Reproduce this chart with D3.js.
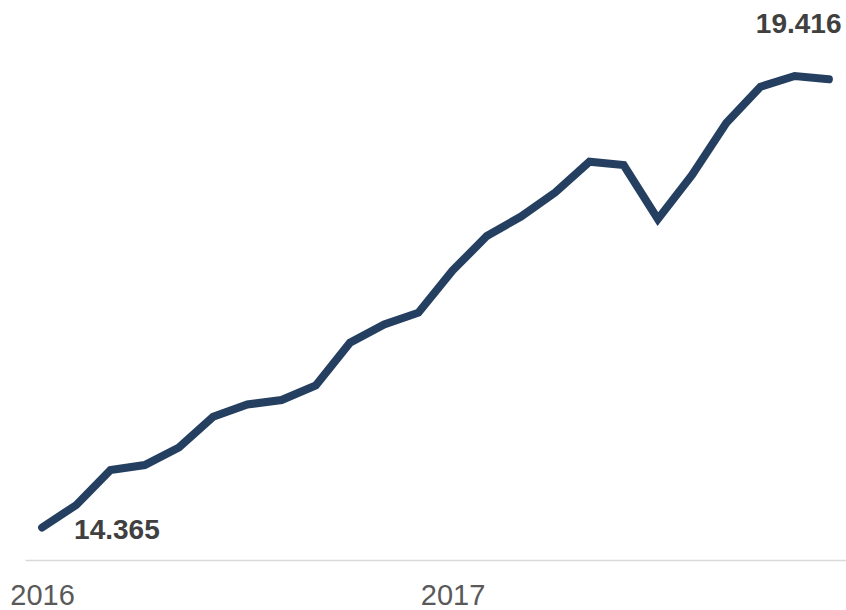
<!DOCTYPE html>
<html>
<head>
<meta charset="utf-8">
<script src="https://cdn.jsdelivr.net/npm/d3@7"></script>
<style>
  body { margin: 0; background: #fff; }
  svg { display: block; font-family: "Liberation Sans", Arial, sans-serif; }
</style>
</head>
<body>
<svg id="chart" width="846" height="610"></svg>
<script>
var months = ["2016-01", "2016-02", "2016-03", "2016-04", "2016-05", "2016-06",
              "2016-07", "2016-08", "2016-09", "2016-10", "2016-11", "2016-12",
              "2017-01", "2017-02", "2017-03", "2017-04", "2017-05", "2017-06",
              "2017-07", "2017-08", "2017-09", "2017-10", "2017-11", "2017-12"];
var values = [14.365, 14.617, 15.008, 15.064, 15.260, 15.605,
              15.741, 15.791, 15.954, 16.432, 16.636, 16.768,
              17.240, 17.626, 17.844, 18.113, 18.457, 18.420,
              17.815, 18.308, 18.890, 19.296, 19.416, 19.379];
var tickMonths = ["2016-01", "2017-01"];
var tickLabels = ["2016", "2017"];

var svg = d3.select("#chart");

var x = d3.scalePoint()
    .domain(months)
    .range([25, 846])
    .padding(0.5);

var y = d3.scaleLinear()
    .domain([d3.min(values), d3.max(values)])
    .range([527.5, 76]);

// x axis, no ticks, light baseline
var xAxis = svg.append("g")
    .attr("transform", "translate(0,560)")
    .call(d3.axisBottom(x)
        .tickValues(tickMonths)
        .tickSize(0)
        .tickPadding(24)
        .tickFormat(function(d, i) { return tickLabels[i]; }));

xAxis.select(".domain")
    .attr("stroke", "#d9d9d9")
    .attr("stroke-width", 1.5);

xAxis.selectAll("text")
    .attr("fill", "#595959")
    .style("font-size", "29px")
    .style("font-family", "'Liberation Sans', Arial, sans-serif");

var line = d3.line()
    .x(function(d, i) { return x(months[i]); })
    .y(function(d) { return y(d); });

svg.append("path")
    .datum(values)
    .attr("d", line)
    .attr("fill", "none")
    .attr("stroke", "#253f61")
    .attr("stroke-width", 8)
    .attr("stroke-linejoin", "miter")
    .attr("stroke-linecap", "round");

// min and max labels
var iMin = d3.minIndex(values);
var iMax = d3.maxIndex(values);

svg.append("text")
    .attr("x", x(months[iMin]) + 32)
    .attr("y", y(values[iMin]) + 11.5)
    .attr("fill", "#404040")
    .style("font-size", "28px")
    .style("font-weight", "bold")
    .text(values[iMin].toFixed(3));

svg.append("text")
    .attr("x", x(months[iMax]) + 4)
    .attr("y", y(values[iMax]) - 43)
    .attr("text-anchor", "middle")
    .attr("fill", "#404040")
    .style("font-size", "28px")
    .style("font-weight", "bold")
    .text(values[iMax].toFixed(3));
</script>
</body>
</html>
